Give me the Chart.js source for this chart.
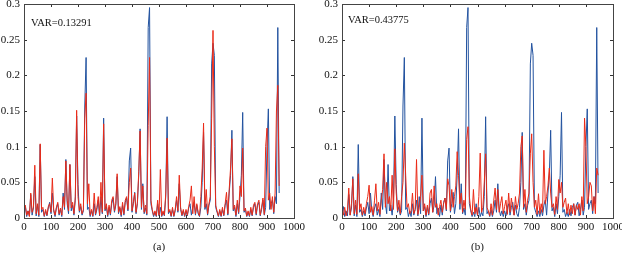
<!DOCTYPE html>
<html>
<head>
<meta charset="utf-8">
<script src="https://cdn.jsdelivr.net/npm/chart.js@4/dist/chart.umd.min.js"></script>
<style>
  html, body { margin: 0; padding: 0; background: #fff; }
  body { width: 622px; height: 254px; position: relative; overflow: hidden; }
  canvas { position: absolute; top: 0; }
</style>
</head>
<body>
<canvas id="ca" width="311" height="254" style="left:0"></canvas>
<canvas id="cb" width="311" height="254" style="left:311px"></canvas>
<script>
// ---- data (sample index i corresponds to x = i * X_STEP) ----
const X_STEP = 5;
const xTickValues = [0, 100, 200, 300, 400, 500, 600, 700, 800, 900, 1000];
const xTickLabels = ['0', '100', '200', '300', '400', '500', '600', '700', '800', '900', '1000'];
const yTickValues = [0, 0.05, 0.1, 0.15, 0.2, 0.25, 0.3];
const yTickLabels = ['0', '0.05', '0.1', '0.15', '0.2', '0.25', '0.3'];
const panelLabels = ['(a)', '(b)'];
const varLabels = ['VAR=0.13291', 'VAR=0.43775'];

// blue series (same in both panels)
const blueValues = [
  0.004,0.016,0.002,0.010,0.003,0.033,0.004,0.014,0.058,0.003,
  0.018,0.002,0.103,0.008,0.012,0.002,0.010,0.003,0.014,0.022,
  0.006,0.035,0.010,0.002,0.014,0.020,0.004,0.012,0.002,0.035,
  0.012,0.082,0.020,0.006,0.075,0.010,0.018,0.004,0.025,0.143,
  0.047,0.008,0.016,0.004,0.010,0.157,0.225,0.012,0.015,0.002,
  0.010,0.002,0.020,0.004,0.012,0.025,0.003,0.030,0.006,0.140,
  0.010,0.016,0.002,0.015,0.004,0.020,0.028,0.008,0.018,0.058,
  0.006,0.014,0.002,0.018,0.004,0.022,0.028,0.010,0.080,0.098,
  0.008,0.020,0.036,0.006,0.020,0.060,0.125,0.012,0.048,0.006,
  0.014,0.004,0.267,0.295,0.020,0.010,0.002,0.008,0.002,0.020,
  0.003,0.015,0.002,0.008,0.003,0.030,0.142,0.006,0.010,0.002,
  0.012,0.002,0.010,0.025,0.008,0.048,0.012,0.003,0.010,0.002,
  0.010,0.003,0.014,0.020,0.004,0.015,0.022,0.004,0.018,0.006,
  0.002,0.015,0.050,0.120,0.012,0.020,0.004,0.018,0.025,0.216,
  0.245,0.228,0.015,0.008,0.002,0.010,0.002,0.012,0.003,0.018,
  0.025,0.004,0.035,0.060,0.123,0.010,0.015,0.002,0.020,0.006,
  0.030,0.060,0.148,0.008,0.012,0.002,0.008,0.002,0.012,0.003,
  0.015,0.020,0.004,0.018,0.022,0.003,0.012,0.025,0.004,0.015,
  0.100,0.153,0.012,0.020,0.025,0.006,0.030,0.020,0.267,0.035
];

// red series, panel (a)
const redValuesA = [
  0.012,0.018,0.004,0.010,0.002,0.035,0.008,0.015,0.074,0.006,
  0.020,0.004,0.104,0.012,0.015,0.003,0.012,0.004,0.016,0.020,
  0.008,0.056,0.012,0.004,0.015,0.022,0.006,0.014,0.004,0.030,
  0.015,0.080,0.025,0.010,0.075,0.014,0.022,0.006,0.030,0.151,
  0.030,0.010,0.020,0.006,0.012,0.140,0.175,0.020,0.048,0.004,
  0.012,0.003,0.035,0.006,0.015,0.030,0.004,0.050,0.008,0.132,
  0.012,0.020,0.004,0.018,0.006,0.025,0.030,0.010,0.020,0.062,
  0.008,0.016,0.004,0.022,0.006,0.025,0.030,0.012,0.050,0.070,
  0.010,0.022,0.035,0.008,0.022,0.065,0.122,0.015,0.045,0.008,
  0.018,0.006,0.130,0.225,0.025,0.012,0.004,0.010,0.003,0.025,
  0.004,0.068,0.003,0.010,0.004,0.035,0.112,0.008,0.012,0.003,
  0.015,0.003,0.012,0.030,0.010,0.060,0.015,0.004,0.012,0.003,
  0.012,0.004,0.016,0.025,0.045,0.006,0.030,0.006,0.020,0.008,
  0.003,0.030,0.070,0.133,0.015,0.040,0.006,0.020,0.030,0.140,
  0.263,0.100,0.018,0.010,0.003,0.012,0.003,0.015,0.004,0.020,
  0.036,0.006,0.040,0.070,0.111,0.012,0.018,0.004,0.025,0.008,
  0.045,0.030,0.098,0.010,0.014,0.003,0.010,0.003,0.015,0.004,
  0.018,0.022,0.006,0.020,0.025,0.004,0.015,0.028,0.005,0.100,
  0.126,0.025,0.035,0.012,0.030,0.008,0.035,0.150,0.186,0.045
];

// red series, panel (b)
const redValuesB = [
  0.012,0.004,0.015,0.003,0.010,0.042,0.004,0.020,0.055,0.006,
  0.025,0.005,0.062,0.012,0.020,0.004,0.015,0.006,0.020,0.030,
  0.046,0.008,0.016,0.004,0.025,0.048,0.010,0.022,0.005,0.025,
  0.040,0.090,0.015,0.050,0.020,0.030,0.010,0.060,0.012,0.097,
  0.035,0.010,0.025,0.006,0.030,0.050,0.105,0.060,0.015,0.020,
  0.006,0.010,0.035,0.006,0.012,0.082,0.005,0.015,0.030,0.060,
  0.010,0.020,0.004,0.018,0.006,0.035,0.040,0.008,0.045,0.015,
  0.020,0.004,0.016,0.025,0.008,0.020,0.028,0.012,0.055,0.045,
  0.010,0.040,0.015,0.030,0.045,0.093,0.060,0.020,0.035,0.008,
  0.025,0.012,0.110,0.128,0.030,0.012,0.004,0.040,0.006,0.015,
  0.004,0.030,0.091,0.008,0.015,0.050,0.090,0.015,0.010,0.003,
  0.020,0.004,0.025,0.042,0.012,0.040,0.008,0.020,0.030,0.006,
  0.016,0.025,0.005,0.035,0.008,0.028,0.014,0.004,0.030,0.012,
  0.020,0.035,0.100,0.115,0.015,0.040,0.008,0.025,0.035,0.090,
  0.118,0.050,0.015,0.025,0.005,0.034,0.006,0.020,0.008,0.095,
  0.020,0.030,0.045,0.070,0.035,0.015,0.020,0.005,0.030,0.012,
  0.054,0.035,0.050,0.015,0.022,0.028,0.006,0.020,0.004,0.018,
  0.006,0.020,0.004,0.018,0.012,0.020,0.004,0.030,0.010,0.140,
  0.100,0.020,0.030,0.050,0.045,0.010,0.030,0.006,0.070,0.060
];

// ---- rendering ----
const BLUE = '#22529f';
const RED = '#ea2a17';
const FONT = "'Liberation Serif', 'Times New Roman', serif";

function toPoints(values) {
  return values.map((v, i) => ({ x: i * X_STEP, y: v }));
}

function labelFor(values, labels, v) {
  const k = values.findIndex(t => Math.abs(t - v) < 1e-9);
  return k >= 0 ? labels[k] : '';
}

const frameTicks = {
  id: 'frameTicks',
  afterDatasetsDraw(chart, args, opts) {
    const { ctx, chartArea: a, scales: { x, y } } = chart;
    ctx.save();
    ctx.strokeStyle = '#333';
    ctx.lineWidth = 1;
    ctx.beginPath();
    const L = 3;
    xTickValues.forEach(v => {
      const px = Math.round(x.getPixelForValue(v)) + 0.5;
      ctx.moveTo(px, a.bottom); ctx.lineTo(px, a.bottom - L);
      ctx.moveTo(px, a.top); ctx.lineTo(px, a.top + L);
    });
    yTickValues.forEach(v => {
      const py = Math.round(y.getPixelForValue(v)) + 0.5;
      ctx.moveTo(a.left, py); ctx.lineTo(a.left + L, py);
      ctx.moveTo(a.right, py); ctx.lineTo(a.right - L, py);
    });
    ctx.stroke();
    ctx.strokeStyle = '#444';
    ctx.strokeRect(Math.round(a.left) + 0.5, Math.round(a.top) + 0.5,
                   Math.round(a.right - a.left), Math.round(a.bottom - a.top));
    ctx.fillStyle = '#111';
    ctx.font = '10.5px ' + FONT;
    ctx.textBaseline = 'middle';
    ctx.textAlign = 'left';
    ctx.fillText(opts.text, a.left + opts.dx, a.top + opts.dy);
    ctx.restore();
  }
};

function makeChart(id, redValues, idx, yWidth, padRight, varDx, varDy) {
  return new Chart(document.getElementById(id), {
    type: 'scatter',
    data: {
      datasets: [
        { label: 'red', data: toPoints(redValues), borderColor: RED, borderWidth: 1,
          showLine: true, pointRadius: 0, tension: 0 },
        { label: 'blue', data: toPoints(blueValues), borderColor: BLUE, borderWidth: 1,
          showLine: true, pointRadius: 0, tension: 0 }
      ]
    },
    options: {
      responsive: false,
      animation: false,
      devicePixelRatio: 1,
      layout: { padding: { top: 4, right: padRight, left: 0, bottom: 0 } },
      plugins: {
        legend: { display: false },
        tooltip: { enabled: false },
        frameTicks: { text: varLabels[idx], dx: varDx, dy: varDy }
      },
      scales: {
        x: {
          type: 'linear', min: 0, max: 1000,
          afterBuildTicks: s => { s.ticks = xTickValues.map(v => ({ value: v })); },
          ticks: { padding: 3, color: '#111', font: { family: FONT, size: 11 }, maxRotation: 0, autoSkip: false,
                   callback: v => labelFor(xTickValues, xTickLabels, v) },
          grid: { display: false, drawTicks: false },
          border: { display: false },
          title: { display: true, text: panelLabels[idx], color: '#111',
                   font: { family: FONT, size: 11 }, padding: { top: 0, bottom: 0 } },
          afterFit: s => { s.height = 36; s.paddingLeft = 0; s.paddingRight = 0; }
        },
        y: {
          type: 'linear', min: 0, max: 0.3,
          afterBuildTicks: s => { s.ticks = yTickValues.map(v => ({ value: v })); },
          ticks: { padding: 4, color: '#111', font: { family: FONT, size: 11 },
                   callback: v => labelFor(yTickValues, yTickLabels, v) },
          grid: { display: false, drawTicks: false },
          border: { display: false },
          afterFit: s => { s.width = yWidth; s.paddingTop = 0; s.paddingBottom = 0; }
        }
      }
    },
    plugins: [frameTicks]
  });
}

makeChart('ca', redValuesA, 0, 24, 17, 7, 19);
makeChart('cb', redValuesB, 1, 31, 9, 6, 16);
</script>
</body>
</html>
